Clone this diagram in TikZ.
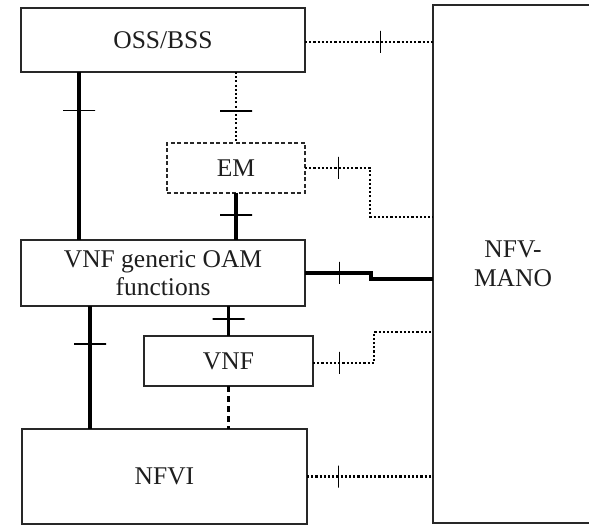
\documentclass[tikz,border=0pt]{standalone}
\usepackage{fontspec}
\setmainfont{Liberation Serif}
\usepackage{xcolor}
\usetikzlibrary{calc,positioning}
\definecolor{boxline}{RGB}{40,40,40}
\definecolor{boxtext}{RGB}{30,30,30}

\tikzset{
  block/.style={draw=boxline, line width=1.3pt, rectangle, inner sep=0pt, outer sep=0pt,
    text=boxtext, align=center, font=\fontsize{25.5}{28.5}\selectfont},
  thick link/.style={line width=3.8pt, black},
  dot link/.style={line width=2.1pt, black, dash pattern=on 2.1pt off 2.1pt},
  dash link/.style={line width=2.2pt, black, dash pattern=on 6pt off 4pt},
  htick/.style={draw=black, solid, line width=1.3pt, inner sep=0pt, outer sep=0pt,
    minimum width=32pt, minimum height=0pt},
  vtick/.style={draw=black, solid, line width=1.3pt, inner sep=0pt, outer sep=0pt,
    minimum width=0pt, minimum height=22pt}
}

\begin{document}
\begin{tikzpicture}[x=1pt,y=-1pt]
    \useasboundingbox (0,0) rectangle (589,526);

    % boxes
    \node[block, minimum width=284pt, minimum height=64pt] (oss) at (163,40) {OSS/BSS};
    \node[block, dashed, dash pattern=on 4pt off 2.5pt, minimum width=138pt, minimum height=50pt] (em) at (236,168) {EM};
    \node[block, minimum width=284pt, minimum height=66pt] (vgen) at (163,273) {VNF generic OAM\\functions};
    \node[block, minimum width=169pt, minimum height=50pt] (vnf) at (228.5,361) {VNF};
    \node[block, minimum width=285pt, minimum height=95pt] (nfvi) at (164.5,476.5) {NFVI};
    \node[block, minimum width=160pt, minimum height=518pt] (mano) at (513,264) {NFV-\\MANO};

    % vertical links
    \draw[thick link] ([xshift=58pt]oss.south west) -- node[htick, pos=.23]{} ([xshift=58pt]vgen.north west);
    \draw[dot link] (em.north |- oss.south) -- node[htick, pos=.55]{} (em.north);
    \draw[thick link] (em.south) -- node[htick, pos=.47]{} (em.south |- vgen.north);
    \draw[thick link] ([xshift=69pt]vgen.south west) -- node[htick, pos=.31]{} ([xshift=68pt]nfvi.north west);
    \draw[thick link] (vnf.north |- vgen.south) -- node[htick, pos=.43]{} (vnf.north);
    \draw[dash link] (vnf.south) -- (vnf.south |- nfvi.north);

    % links to NFV-MANO
    \draw[dot link] ([yshift=-2pt]oss.east) -- node[vtick, pos=.59]{} ([yshift=-2pt]oss.east -| mano.west);
    \draw[dot link] (em.east) -- node[vtick, pos=.52]{} ++(65,0) |- ([yshift=47pt]mano.west);
    \draw[thick link] (vgen.east) -- node[vtick, pos=.52]{} ++(66,0) |- ([yshift=-15pt]mano.west);
    \draw[dot link] ([yshift=-2pt]vnf.east) -- node[vtick, pos=.43]{} ++(61,0) |- ([yshift=-68pt]mano.west);
    \draw[dot link] (nfvi.east) -- node[vtick, pos=.25]{} (nfvi.east -| mano.west);
\end{tikzpicture}
\end{document}
